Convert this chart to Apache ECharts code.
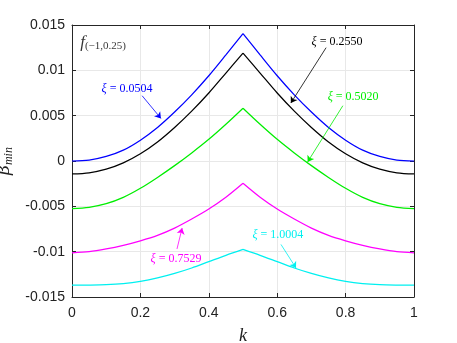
<!DOCTYPE html>
<html><head><meta charset="utf-8">
<script src="https://cdn.jsdelivr.net/npm/echarts@6/dist/echarts.min.js"></script>
<style>html,body{margin:0;padding:0;background:#fff}#c{width:457px;height:343px}</style>
</head><body><div id="c"></div>
<script>
const kValues = [0,0.05,0.1,0.15,0.2,0.25,0.3,0.35,0.4,0.45,0.5,0.55,0.6,0.65,0.7,0.75,0.8,0.85,0.9,0.95,1];
const blueVals = [0,0.0001,0.0005,0.0012,0.0023,0.0037,0.0054,0.0073,0.0094,0.0117,0.01405,0.0117,0.0094,0.0073,0.0054,0.0037,0.0023,0.0012,0.0005,0.0001,0];
const blackVals = [-0.00143,-0.0013,-0.0009,-0.0002,0.0008,0.0021,0.0037,0.0055,0.0075,0.0097,0.01189,0.0097,0.0075,0.0055,0.0037,0.0021,0.0008,-0.0002,-0.0009,-0.0013,-0.00143];
const greenVals = [-0.00526,-0.00511,-0.00471,-0.00401,-0.00301,-0.00181,-0.00051,0.00089,0.00239,0.00405,0.00582,0.00405,0.00239,0.00089,-0.00051,-0.00181,-0.00301,-0.00401,-0.00471,-0.00511,-0.00526];
const magentaVals = [-0.01012,-0.0100,-0.0097,-0.0093,-0.0088,-0.0082,-0.0074,-0.0064,-0.0053,-0.0040,-0.00246,-0.0040,-0.0053,-0.0064,-0.0074,-0.0082,-0.0088,-0.0093,-0.0097,-0.0100,-0.01012];
const cyanVals = [-0.01369,-0.01368,-0.01364,-0.01352,-0.01328,-0.0129,-0.0124,-0.0118,-0.0111,-0.0104,-0.00975,-0.0104,-0.0111,-0.0118,-0.0124,-0.0129,-0.01328,-0.01352,-0.01364,-0.01368,-0.01369];
const xiLabels = ['0.0504','0.2550','0.5020','0.7529','1.0004'];
const xTicks = ['0','0.2','0.4','0.6','0.8','1'];
const yTicks = ['-0.015','-0.01','-0.005','0','0.005','0.01','0.015'];

const colors = ['#0000ff','#000000','#00ee00','#ff00ff','#00f0f0'];
const allVals = [blueVals, blackVals, greenVals, magentaVals, cyanVals];
// annotation placement (label centre, arrow tail, arrow tip) in data units
const annot = [
  {lab:[0.161,0.0080], a:[0.205,0.0072], b:[0.260,0.0047]},
  {lab:[0.775,0.0131], a:[0.743,0.0125], b:[0.640,0.0064]},
  {lab:[0.822,0.0071], a:[0.792,0.0061], b:[0.689,-0.0001]},
  {lab:[0.304,-0.0108], a:[0.307,-0.0097], b:[0.322,-0.0074]},
  {lab:[0.602,-0.0081], a:[0.611,-0.0092], b:[0.655,-0.0118]}
];

const series = [];
allVals.forEach((vals, i) => {
  const pts = kValues.map((k, j) => [k, vals[j]]);
  const left = pts.slice(0, 11), right = pts.slice(10);
  const base = {type:'line', showSymbol:false, smooth:0.3, lineStyle:{color:colors[i], width:1.25}, itemStyle:{color:colors[i]}, silent:true, z:3};
  series.push(Object.assign({}, base, {
    data:left,
    markLine:{silent:true, symbol:['none','arrow'], symbolSize:6, label:{show:false},
      lineStyle:{color:colors[i], width:0.8, type:'solid'},
      data:[[{coord:annot[i].a},{coord:annot[i].b}]]},
    markPoint:{silent:true, symbol:'circle', symbolSize:1, itemStyle:{color:'rgba(0,0,0,0)'},
      label:{show:true, position:'inside', formatter:'{i|ξ} = ' + xiLabels[i], color:colors[i],
        fontFamily:'Liberation Serif', fontSize:12,
        rich:{i:{fontStyle:'italic', fontFamily:'Liberation Serif', fontSize:12, color:colors[i]}}},
      data:[{coord:annot[i].lab}]}
  }));
  series.push(Object.assign({}, base, {data:right}));
});
// panel label
series.push({type:'scatter', data:[[0.024,0.0131]], symbolSize:0, silent:true,
  label:{show:true, position:'right', distance:0, formatter:'{f|f}{s|(−1,0.25)}',
    rich:{f:{fontFamily:'Liberation Serif', fontStyle:'italic', fontSize:17, color:'#000'},
          s:{fontFamily:'Liberation Serif', fontSize:11, color:'#000', verticalAlign:'bottom', padding:[8,0,0,0]}}}});

const axisCol = '#262626';
const chart = echarts.init(document.getElementById('c'));
chart.setOption({
  animation:false,
  grid:{left:72, right:43, top:25, bottom:46, containLabel:false, outerBoundsMode:'none'},
  xAxis:[{type:'value', min:0, max:1, interval:0.2, position:'bottom',
    axisLine:{show:true, onZero:false, lineStyle:{color:axisCol, width:1}},
    axisTick:{show:true, inside:true, length:4, lineStyle:{color:axisCol}},
    axisLabel:{color:'#222', fontFamily:'Liberation Sans', fontSize:14, margin:9, formatter:v=>xTicks[Math.round(v/0.2)]},
    splitLine:{show:true, lineStyle:{color:'#e8e8e8', width:1}},
    name:'k', nameLocation:'middle', nameGap:30,
    nameTextStyle:{fontFamily:'Liberation Serif', fontStyle:'italic', fontSize:18, color:'#222'}},
   {type:'value', min:0, max:1, interval:0.2, position:'top',
    axisLine:{show:true, onZero:false, lineStyle:{color:axisCol, width:1}},
    axisTick:{show:true, inside:true, length:4, lineStyle:{color:axisCol}},
    axisLabel:{show:false}, splitLine:{show:false}}],
  yAxis:[{type:'value', min:-0.015, max:0.015, interval:0.005, position:'left',
    axisLine:{show:true, onZero:false, lineStyle:{color:axisCol, width:1}},
    axisTick:{show:true, inside:true, length:4, lineStyle:{color:axisCol}},
    axisLabel:{color:'#222', fontFamily:'Liberation Sans', fontSize:14, margin:7, formatter:v=>yTicks[Math.round((v+0.015)/0.005)]},
    splitLine:{show:true, lineStyle:{color:'#e8e8e8', width:1}},
    name:'{b|β}{s|min}', nameLocation:'middle', nameGap:31, nameRotate:90,
    nameTextStyle:{rich:{b:{fontFamily:'DejaVu Serif', fontStyle:'italic', fontSize:17, color:'#222'},
      s:{fontFamily:'Liberation Serif', fontStyle:'italic', fontSize:12, color:'#222', verticalAlign:'bottom', padding:[8,0,0,0]}}}},
   {type:'value', min:-0.015, max:0.015, interval:0.005, position:'right',
    axisLine:{show:true, onZero:false, lineStyle:{color:axisCol, width:1}},
    axisTick:{show:true, inside:true, length:4, lineStyle:{color:axisCol}},
    axisLabel:{show:false}, splitLine:{show:false}}],
  series:series
});
</script></body></html>
